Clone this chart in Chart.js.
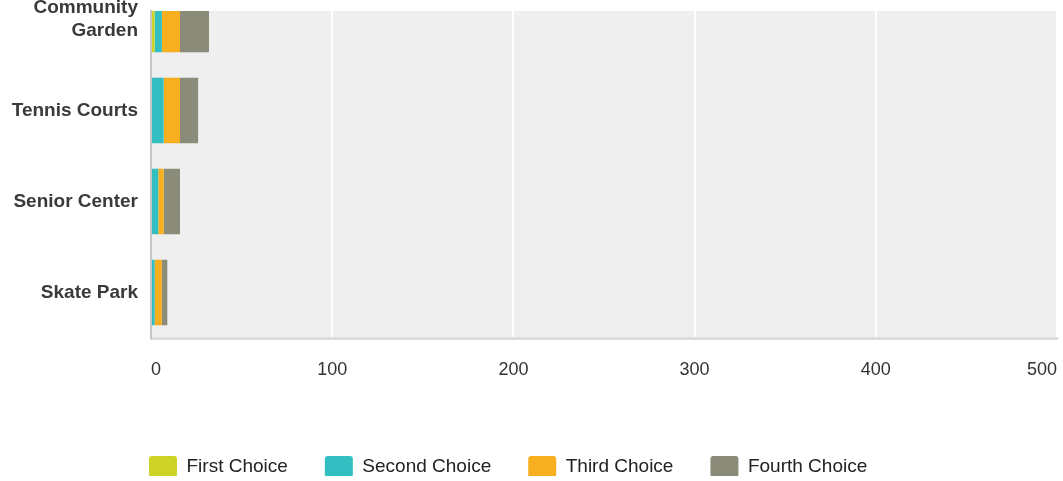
<!DOCTYPE html>
<html>
<head>
<meta charset="utf-8">
<script src="https://cdn.jsdelivr.net/npm/chart.js@4/dist/chart.umd.min.js"></script>
<style>
  html, body { margin: 0; padding: 0; background: #fff; }
  #caixa { width: 1063px; height: 481px; position: relative; }
</style>
</head>
<body>
<div id="caixa"><canvas id="graficoEscolhas"></canvas></div>
<script>
const categorias = ['Community Garden', 'Tennis Courts', 'Senior Center', 'Skate Park'];
const rotulosY = [['Community', 'Garden'], 'Tennis Courts', 'Senior Center', 'Skate Park'];
const posicoes = [0, 1, 2, 3];

const primeiraEscolha = [2, 0, 0, 0];
const segundaEscolha = [4, 7, 4, 2];
const terceiraEscolha = [10, 9, 3, 4];
const quartaEscolha = [16, 10, 9, 3];

const eixoX = { min: 0, max: 500, passo: 100 };

// fundo cinza so dentro da area do grafico
const fundoArea = {
  id: 'fundoArea',
  beforeDraw(chart) {
    const { ctx, chartArea } = chart;
    ctx.save();
    ctx.fillStyle = '#efefef';
    ctx.fillRect(chartArea.left, chartArea.top, chartArea.right - chartArea.left, chartArea.bottom - chartArea.top);
    ctx.restore();
  }
};

// legenda comeca perto do eixo, nao na borda
const recuoLegenda = {
  id: 'recuoLegenda',
  afterLayout(chart) {
    if (chart.legend) {
      chart.legend.left = 112;
    }
  }
};

const grafico = document.getElementById('graficoEscolhas');
const graficoEscolhas = new Chart(grafico, {
  type: 'bar',
  data: {
    labels: posicoes,
    datasets: [{
      label: 'First Choice',
      data: primeiraEscolha,
      backgroundColor: '#cdd425'
    }, {
      label: 'Second Choice',
      data: segundaEscolha,
      backgroundColor: '#33bec1'
    }, {
      label: 'Third Choice',
      data: terceiraEscolha,
      backgroundColor: '#f7ae1f'
    }, {
      label: 'Fourth Choice',
      data: quartaEscolha,
      backgroundColor: '#8a8b78'
    }]
  },
  options: {
    indexAxis: 'y',
    responsive: true,
    maintainAspectRatio: false,
    animation: false,
    layout: { padding: { left: 0, right: 6, top: 11, bottom: 5 } },
    scales: {
      x: {
        type: 'linear',
        stacked: true,
        min: eixoX.min,
        max: eixoX.max,
        grid: {
          color: ctx => (ctx.tick && ctx.tick.value === 0) ? 'rgba(0,0,0,0)' : '#ffffff',
          lineWidth: 2,
          drawTicks: false
        },
        border: { color: '#dcdcdc', width: 3 },
        ticks: {
          stepSize: eixoX.passo,
          align: 'inner',
          maxRotation: 0,
          autoSkip: false,
          padding: 21,
          color: '#333333',
          font: { family: "'Liberation Sans', Arial, sans-serif", size: 18 }
        },
        afterFit(escala) {
          escala.height = 81;
          escala.paddingLeft = 0;
          escala.paddingRight = 0;
        }
      },
      y: {
        type: 'linear',
        stacked: true,
        reverse: true,
        offset: false,
        min: -0.093,
        max: 3.5,
        grid: { display: false, drawTicks: false, offset: false },
        border: { color: '#c6c6c6', width: 2 },
        ticks: {
          stepSize: 1,
          includeBounds: false,
          autoSkip: false,
          padding: 13,
          color: '#3a3a3a',
          font: { family: "'Liberation Sans', Arial, sans-serif", size: 19, weight: 'bold', lineHeight: 1.2 },
          callback: valor => rotulosY[valor]
        },
        afterFit(escala) {
          escala.width = 151;
          escala.paddingTop = 0;
          escala.paddingBottom = 0;
        }
      }
    },
    plugins: {
      legend: {
        position: 'bottom',
        align: 'start',
        maxHeight: 57,
        labels: {
          boxWidth: 28,
          boxHeight: 21,
          padding: 37,
          useBorderRadius: true,
          borderRadius: 3,
          color: '#222222',
          font: { family: "'Liberation Sans', Arial, sans-serif", size: 19 }
        }
      },
      tooltip: {
        callbacks: {
          title: itens => categorias[itens[0].dataIndex]
        }
      }
    }
  },
  plugins: [fundoArea, recuoLegenda]
});
</script>
</body>
</html>
